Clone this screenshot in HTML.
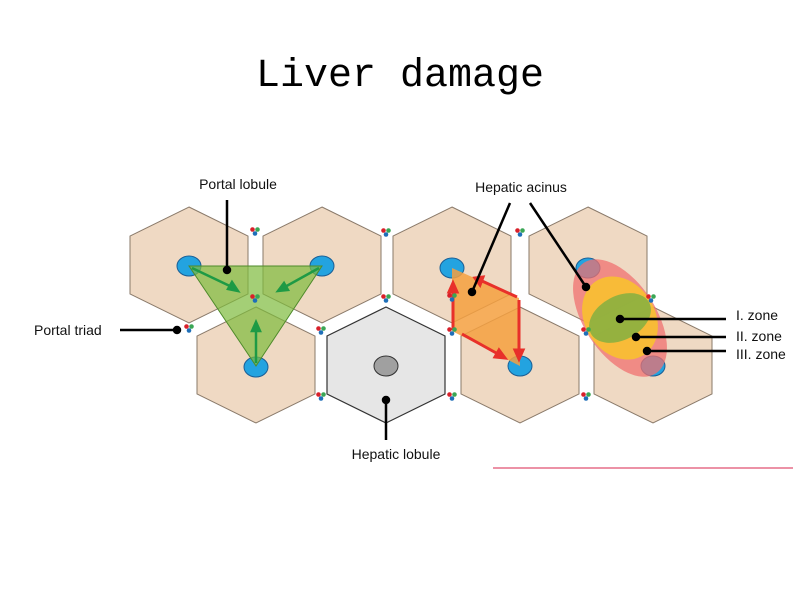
<!DOCTYPE html>
<html><head><style>body{margin:0;background:#fff;width:800px;height:600px;overflow:hidden}</style></head><body>
<svg width="800" height="600" xmlns="http://www.w3.org/2000/svg" font-family="Liberation Sans, sans-serif">
<text x="400" y="86" text-anchor="middle" font-family="Liberation Mono, monospace" font-size="40">Liver damage</text>
<defs>
<g id="hex"><polygon points="0,-58 59,-29 59,29 0,58 -59,29 -59,-29" stroke="#8a7a6a" stroke-width="1"/></g>
<g id="tr"><circle cx="-2.5" cy="-1.5" r="2.3" fill="#d8202a"/><circle cx="2.5" cy="-1.5" r="2.3" fill="#3aa655"/><circle cx="0" cy="2.5" r="2.3" fill="#1e6fb8"/></g>
</defs>
<g fill="#efd9c3">
<use href="#hex" x="189" y="265"/><use href="#hex" x="322" y="265"/><use href="#hex" x="452" y="265"/><use href="#hex" x="588" y="265"/>
<use href="#hex" x="256" y="365"/><use href="#hex" x="520" y="365"/><use href="#hex" x="653" y="365"/>
</g>
<polygon points="386,307 445,336 445,394 386,423 327,394 327,336" fill="#e6e6e6" stroke="#333" stroke-width="1.2"/>
<ellipse cx="386" cy="366" rx="12" ry="10" fill="#a0a0a0" stroke="#333"/>
<g fill="#23a3e0" stroke="#1b5f96" stroke-width="1">
<ellipse cx="189" cy="266" rx="12" ry="10"/><ellipse cx="322" cy="266" rx="12" ry="10"/><ellipse cx="452" cy="268" rx="12" ry="10"/><ellipse cx="588" cy="268" rx="12" ry="10"/>
<ellipse cx="256" cy="367" rx="12" ry="10"/><ellipse cx="520" cy="366" rx="12" ry="10"/><ellipse cx="653" cy="366" rx="12" ry="10"/>
</g>
<polygon points="189,266 322,266 256,366" fill="#7dbb3c" fill-opacity="0.7" stroke="#4e8a2a"/>
<g stroke="#1e9a45" stroke-width="2.5" fill="#1e9a45">
<line x1="192" y1="268" x2="234" y2="288"/><polygon points="238,291 228,289 232,282"/>
<line x1="319" y1="268" x2="283" y2="288"/><polygon points="278,291 284,283 288,290"/>
<line x1="256" y1="363" x2="256" y2="328"/><polygon points="256,322 252,331 260,331"/>
</g>
<polygon points="452,268 519,298 520,366 452,331" fill="#f4a040" fill-opacity="0.85"/>
<g stroke="#e8302a" stroke-width="3" fill="#e8302a">
<line x1="453" y1="330" x2="453" y2="290"/><polygon points="453,283 449,292 457,292"/>
<line x1="517" y1="297" x2="482" y2="281"/><polygon points="475,278 483,277 480,285"/>
<line x1="519" y1="300" x2="519" y2="352"/><polygon points="519,359 515,350 523,350"/>
<line x1="462" y1="334" x2="498" y2="354"/><polygon points="505,358 495,357 499,350"/>
</g>
<g transform="translate(620,318) rotate(57)">
<ellipse rx="66" ry="36" fill="#f07070" fill-opacity="0.75"/>
<ellipse rx="44" ry="35" fill="#f8c030" fill-opacity="0.9"/>
</g>
<ellipse cx="620" cy="318" rx="33" ry="22" transform="rotate(-28 620 318)" fill="#8ab040" fill-opacity="0.9"/>
<g>
<use href="#tr" x="255" y="231"/><use href="#tr" x="386" y="232"/><use href="#tr" x="520" y="232"/>
<use href="#tr" x="189" y="328"/><use href="#tr" x="255" y="298"/><use href="#tr" x="321" y="330"/><use href="#tr" x="386" y="298"/>
<use href="#tr" x="452" y="297"/><use href="#tr" x="452" y="331"/><use href="#tr" x="586" y="331"/><use href="#tr" x="651" y="298"/>
<use href="#tr" x="321" y="396"/><use href="#tr" x="452" y="396"/><use href="#tr" x="586" y="396"/>
</g>
<g stroke="#000" stroke-width="2.5" fill="#000">
<line x1="227" y1="200" x2="227" y2="270"/><circle cx="227" cy="270" r="3"/>
<line x1="120" y1="330" x2="177" y2="330"/><circle cx="177" cy="330" r="3"/>
<line x1="386" y1="400" x2="386" y2="440"/><circle cx="386" cy="400" r="3"/>
<line x1="510" y1="203" x2="472" y2="292"/><circle cx="472" cy="292" r="3"/>
<line x1="530" y1="203" x2="586" y2="287"/><circle cx="586" cy="287" r="3"/>
<line x1="620" y1="319" x2="726" y2="319"/><circle cx="620" cy="319" r="3"/>
<line x1="636" y1="337" x2="726" y2="337"/><circle cx="636" cy="337" r="3"/>
<line x1="647" y1="351" x2="726" y2="351"/><circle cx="647" cy="351" r="3"/>
</g>
<g font-size="14" fill="#111">
<text x="238" y="189" text-anchor="middle">Portal lobule</text>
<text x="34" y="335">Portal triad</text>
<text x="396" y="459" text-anchor="middle">Hepatic lobule</text>
<text x="521" y="192" text-anchor="middle">Hepatic acinus</text>
<text x="736" y="320">I. zone</text>
<text x="736" y="341">II. zone</text>
<text x="736" y="359">III. zone</text>
</g>
<line x1="493" y1="468" x2="793" y2="468" stroke="#e05070" stroke-width="1.2"/>
</svg>
</body></html>
